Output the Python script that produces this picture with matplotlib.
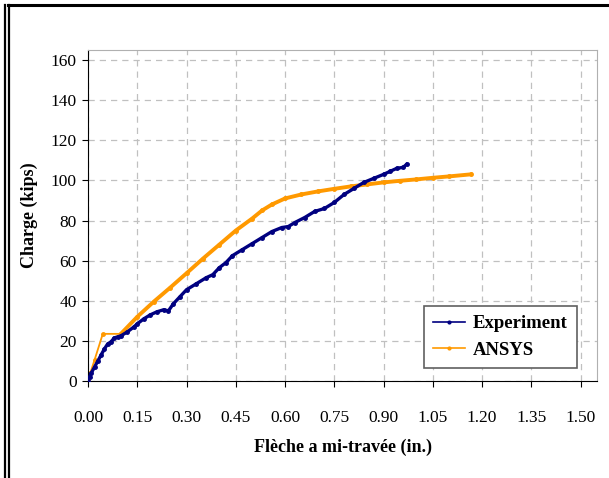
import numpy as np
import matplotlib.pyplot as plt
from matplotlib.lines import Line2D

exp_x = [0.00, 0.005, 0.01, 0.02, 0.03, 0.04, 0.05, 0.06, 0.07, 0.08, 0.09, 0.10,
         0.12, 0.14, 0.15, 0.17, 0.19, 0.21, 0.23, 0.245, 0.26, 0.28, 0.30, 0.33,
         0.36, 0.38, 0.40, 0.42, 0.44, 0.47, 0.50, 0.53, 0.56, 0.59, 0.61, 0.63,
         0.66, 0.69, 0.72, 0.75, 0.78, 0.81, 0.84, 0.87, 0.90, 0.92, 0.94, 0.96, 0.97]
exp_y = [0.0, 2.0, 4.0, 7.0, 10.0, 13.0, 16.0, 18.5, 19.5, 21.5, 22.0, 22.5,
         24.5, 27.0, 28.5, 31.0, 33.0, 34.5, 35.5, 35.0, 38.5, 42.0, 45.5, 48.5,
         51.5, 53.0, 56.5, 59.0, 62.5, 65.5, 68.5, 71.5, 74.5, 76.5, 77.0, 79.0,
         81.5, 84.5, 86.0, 89.0, 93.0, 96.0, 99.0, 101.0, 103.0, 104.5, 106.0, 106.5, 108.0]

# ANSYS prediction
ans_x = [0.00, 0.007, 0.02, 0.045, 0.10, 0.15, 0.20, 0.25, 0.30, 0.35, 0.40,
         0.45, 0.50, 0.53, 0.56, 0.60, 0.65, 0.70, 0.75, 0.80, 0.85, 0.90,
         0.95, 1.00, 1.05, 1.10, 1.165]
ans_y = [0.0, 4.0, 10.5, 23.5, 23.5, 32.0, 39.5, 46.5, 53.7, 61.0, 68.0,
         75.0, 81.0, 85.0, 88.0, 91.0, 93.0, 94.5, 95.8, 97.0, 98.0, 99.0,
         99.8, 100.5, 101.3, 102.0, 103.0]

plt.rcParams['font.family'] = ['Liberation Serif', 'DejaVu Serif']

fig = plt.figure(figsize=(6.09, 4.78), dpi=100)
ax = fig.add_axes([88 / 609, 1 - 381 / 478, (597 - 88) / 609, (381 - 50) / 478])

ax.plot(exp_x, exp_y, '-', color='#000080', lw=2.4, marker='.', markersize=5,
        label='Experiment', zorder=3)
# first part of the ANSYS curve (sparse points) is drawn thinner
ax.plot(ans_x[:5], ans_y[:5], '-', color='#FF9900', lw=1.3, marker='.', markersize=5,
        zorder=2)
ax.plot(ans_x[4:], ans_y[4:], '-', color='#FF9900', lw=2.8, marker='.', markersize=5,
        zorder=2)
ax.plot([], [], '-', color='#FF9900', lw=2.8, marker='.', markersize=5, label='ANSYS')

ax.set_xlim(0, 1.55)
ax.set_ylim(0, 165)
ax.set_xticks(np.arange(0, 1.51, 0.15))
ax.set_xticklabels([f'{v:.2f}' for v in np.arange(0, 1.51, 0.15)])
ax.set_yticks(np.arange(0, 161, 20))

ax.grid(True, color='#c0c0c0', linestyle=(0, (5, 4)), lw=0.9)
ax.set_axisbelow(True)

for s in ['top', 'right']:
    ax.spines[s].set_color('#b0b0b0')
ax.spines['left'].set_color('black')
ax.spines['bottom'].set_color('black')

ax.tick_params(axis='both', direction='out', length=4, labelsize=12.5, color='black')
ax.tick_params(axis='x', pad=17)
ax.tick_params(axis='y', pad=4)

ax.set_xlabel('Flèche a mi-travée (in.)', fontsize=13, fontweight='bold', labelpad=9)
ax.set_ylabel('Charge (kips)', fontsize=13, fontweight='bold', labelpad=9)

leg = ax.legend(loc='lower right', bbox_to_anchor=(577 / 609, 1 - 368 / 478),
                bbox_transform=fig.transFigure, fancybox=False, framealpha=1,
                edgecolor='#606060', prop={'weight': 'bold', 'size': 13.5},
                handlelength=1.7, markerscale=0.8, borderpad=0.5, handletextpad=0.4,
                labelspacing=0.5, borderaxespad=0)
leg.get_frame().set_linewidth(1.2)
for h in leg.legend_handles:
    h.set_linewidth(1.2)

# outer frame lines
fig.add_artist(Line2D([8 / 609, 1], [1 - 5 / 478, 1 - 5 / 478], color='black', lw=2.2,
                      transform=fig.transFigure))
fig.add_artist(Line2D([4.5 / 609, 4.5 / 609], [0, 1 - 5 / 478], color='black', lw=1.6,
                      transform=fig.transFigure))
fig.add_artist(Line2D([9 / 609, 9 / 609], [0, 1 - 5 / 478], color='black', lw=1.6,
                      transform=fig.transFigure))

fig.savefig('out.png', dpi=100)
